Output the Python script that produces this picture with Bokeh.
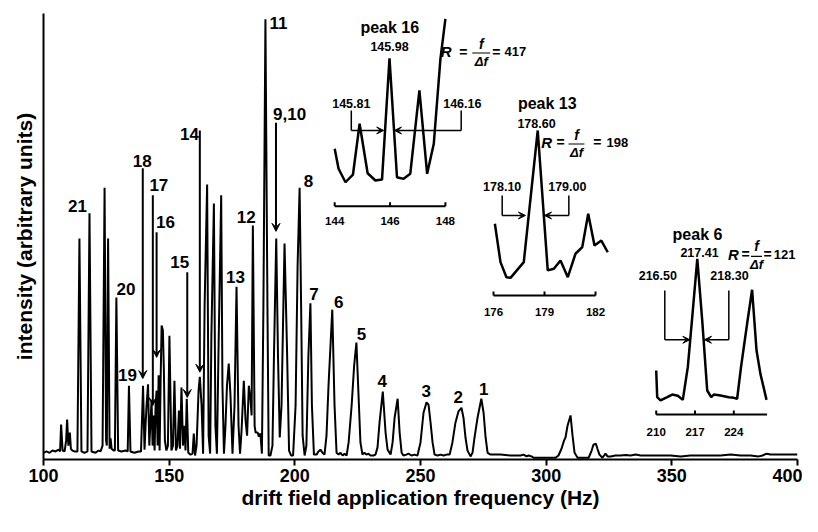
from bokeh.plotting import figure
from bokeh.models import Range1d, FixedTicker, Arrow, VeeHead, ColumnDataSource
from bokeh.core.properties import value
from bokeh.embed import file_html
from bokeh.resources import INLINE

FONT = "Liberation Sans"

# ---------------- main spectrum (Hz, arbitrary intensity) ----------------
freq_a = [100.0, 101.2, 102.4, 103.6, 104.8, 106.0, 106.6, 107.0, 107.6, 108.4,
          109.0, 109.4, 109.9, 110.5, 110.9, 111.5, 112.3, 113.5, 114.3, 115.1,
          116.3, 117.5, 118.3, 119.1, 120.7, 121.9, 122.7, 123.5, 124.3, 124.9,
          125.2, 125.7, 126.3, 126.7, 127.1, 127.9, 128.4, 129.0, 129.7, 131.0,
          132.6, 133.5, 134.0, 134.6, 136.2, 137.8, 138.8, 139.6, 140.2, 140.6,
          141.0, 141.6, 142.1, 142.6, 143.0, 143.4, 143.8, 144.2, 144.6, 145.0,
          145.4, 145.8, 146.2, 146.6, 147.0, 147.5, 147.9, 148.3, 148.9, 149.5]
int_a = [4.4, 4.7, 4.4, 4.9, 4.7, 5.1, 4.7, 10.7, 4.9, 4.7,
         7.1, 11.8, 6.0, 8.9, 5.3, 4.9, 4.7, 4.7, 52.0, 4.7,
         4.4, 4.7, 57.6, 4.7, 4.4, 4.9, 4.7, 6.0, 63.3, 7.1,
         6.0, 52.0, 5.3, 7.6, 5.3, 4.9, 4.9, 38.9, 4.9, 4.7,
         4.9, 4.7, 19.3, 4.7, 4.4, 4.7, 4.7, 19.3, 5.1, 10.4,
         14.9, 19.6, 6.0, 11.6, 16.0, 6.0, 12.7, 4.9, 14.9, 18.2,
         6.0, 21.6, 4.9, 20.4, 32.7, 31.6, 22.7, 7.1, 4.9, 6.0]

freq_b = [150.1, 150.9, 151.5, 152.1, 152.7, 153.3, 153.9, 154.3, 154.9, 155.5,
          156.1, 156.5, 157.0, 157.6, 158.5, 159.3, 159.8, 160.3, 160.9, 161.7,
          162.2, 162.9, 163.5, 164.1, 165.1, 165.7, 166.3, 166.8, 167.8, 168.4,
          169.0, 169.6, 170.7, 171.2, 171.8, 172.4, 173.0, 173.7, 174.4, 175.2,
          176.0, 176.8, 177.6, 178.2, 178.8, 179.7, 180.4, 181.0, 181.7, 182.4,
          182.8, 183.3, 184.0, 184.4, 185.2, 185.7, 186.3, 186.9, 187.5, 188.3,
          189.1, 189.6, 190.3, 191.1, 191.7, 192.6, 193.3, 194.0, 194.7, 195.9,
          196.9, 197.7, 198.5, 199.3]
int_b = [30.4, 4.9, 6.0, 20.4, 4.9, 6.0, 13.8, 5.3, 18.9, 6.0,
         10.4, 4.9, 16.4, 4.4, 4.0, 4.2, 8.7, 3.8, 6.0, 18.2,
         21.3, 14.9, 4.2, 37.1, 64.0, 8.2, 4.2, 30.4, 59.8, 10.4,
         4.2, 26.0, 61.6, 19.3, 4.2, 10.4, 19.3, 24.2, 17.1, 4.2,
         14.9, 41.3, 10.4, 4.2, 9.3, 20.4, 11.6, 8.2, 19.3, 16.0,
         12.7, 54.9, 10.4, 8.9, 8.9, 8.0, 8.7, 4.2, 37.1, 100.7,
         37.1, 3.8, 3.8, 6.0, 26.0, 52.0, 26.0, 7.8, 14.9, 50.9,
         27.1, 4.9, 3.8, 3.8]

freq_c = [200.3, 201.1, 201.9, 202.5, 203.1, 203.9, 204.6, 205.4, 206.2, 206.8,
          207.6, 208.6, 209.4, 210.2, 211.0, 211.8, 212.6, 213.4, 214.9, 215.8,
          216.6, 217.4, 218.2, 219.0, 219.8, 220.6, 221.4, 222.6, 223.6, 224.5,
          225.3, 226.1, 226.9, 227.7, 228.5, 229.3, 230.1, 231.3, 232.1, 232.9,
          233.7, 235.0, 236.1, 236.9, 238.1, 238.9, 239.7, 240.9, 241.7, 242.5,
          243.2, 244.4, 245.2, 246.4, 247.6, 248.8, 250.0, 251.2, 252.4, 253.2,
          254.0, 254.8, 255.6, 256.8, 258.0, 259.2, 260.4, 261.6, 262.7, 263.9,
          265.1, 266.3, 267.1, 267.9, 268.7, 269.9, 270.7, 271.5, 272.7, 274.2,
          275.1, 275.9, 276.7, 277.9]
int_c = [14.9, 46.0, 63.3, 37.1, 8.2, 3.8, 6.0, 26.0, 37.6, 14.9,
         4.0, 4.0, 4.7, 5.1, 4.4, 4.0, 8.2, 19.3, 36.2, 14.9,
         4.4, 4.0, 4.4, 3.8, 4.2, 3.8, 6.7, 14.9, 23.8, 28.9,
         17.8, 6.7, 4.0, 4.4, 4.0, 4.2, 3.8, 3.8, 4.0, 5.6,
         11.1, 18.0, 8.9, 5.1, 4.0, 6.7, 12.2, 16.4, 8.9, 4.4,
         3.8, 4.0, 4.2, 3.8, 4.0, 3.8, 6.7, 13.3, 15.6, 15.1,
         11.1, 6.7, 4.0, 3.8, 4.0, 3.8, 4.0, 4.0, 6.7, 11.1,
         13.6, 14.4, 12.2, 7.8, 4.9, 3.6, 4.4, 7.8, 12.2, 16.4,
         13.3, 7.8, 4.4, 4.0]

freq_d = [279.9, 281.8, 283.8, 285.8, 287.8, 289.8, 291.0, 292.2, 293.0, 294.2,
          295.0, 297.8, 300.9, 303.7, 304.9, 306.1, 307.1, 307.7, 308.5, 309.7,
          310.5, 311.3, 312.5, 314.5, 316.9, 318.1, 318.8, 319.8, 320.4, 321.2,
          322.4, 323.6, 324.4, 325.6, 327.6, 329.6, 331.6, 333.6, 335.6, 337.6,
          341.5, 345.5, 349.5, 353.5, 357.4, 361.4, 365.4, 369.4, 373.4, 377.3,
          381.3, 384.5, 386.1, 387.7, 389.3, 393.3, 397.3, 400.0]
int_d = [4.0, 4.0, 3.9, 3.8, 3.8, 3.8, 4.0, 3.6, 3.8, 3.6,
         3.3, 3.3, 3.3, 3.3, 3.8, 5.3, 7.1, 7.8, 10.4, 12.7,
         8.2, 4.4, 3.3, 3.3, 3.3, 4.9, 6.2, 6.4, 5.3, 4.0,
         3.3, 4.2, 3.6, 3.6, 3.8, 3.8, 3.9, 3.8, 4.0, 3.8,
         3.8, 3.8, 3.8, 3.6, 3.8, 3.8, 3.8, 3.8, 4.0, 3.8,
         3.8, 3.6, 3.8, 4.2, 4.0, 4.0, 4.0, 4.0]

x_ticks = [100, 150, 200, 250, 300, 350, 400]
x_title = "drift field application frequency (Hz)"
y_title = "intensity (arbitrary units)"

# peak labels on the main spectrum
peak_labels = ["21", "20", "19", "18", "17", "16", "15", "14", "13", "12",
               "11", "9,10", "8", "7", "6", "5", "4", "3", "2", "1"]
peak_label_f = [113.5, 132.8, 133.4, 139.3, 145.9, 148.5, 154.2, 158.1, 176.4, 180.7,
                193.5, 197.9, 205.4, 207.6, 217.5, 226.5, 234.8, 252.3, 265.0, 275.2]
peak_label_i = [59.3, 40.9, 21.6, 69.3, 63.8, 55.6, 46.7, 75.3, 43.4, 56.7,
                100.0, 79.6, 64.7, 39.7, 37.8, 30.8, 20.3, 18.1, 16.7, 18.6]

# pointer arrows (vertical) for peaks 18, 17, 16, 15, 14, 9/10
arrow_f = [139.5, 143.5, 145.0, 157.2, 162.2, 192.5]
arrow_top = [67.6, 61.6, 53.4, 44.5, 76.0, 77.7]
arrow_tip = [20.9, 14.9, 25.6, 16.7, 22.3, 53.6]

# ---------------- insets ----------------
ins16_freq = [144.0, 144.14, 144.39, 144.66, 144.9, 145.19, 145.47, 145.71, 145.98,
              146.25, 146.49, 146.73, 147.06, 147.34, 147.58, 147.82, 148.0]
ins16_int = [38.8, 25.3, 16.2, 21.4, 55.7, 22.3, 17.4, 18.0, 100.0,
             19.6, 18.5, 21.9, 78.2, 21.9, 42.2, 99.6, 126.6]
ins16_ticks = [144, 146, 148]

ins13_freq = [176.08, 176.41, 176.76, 177.0, 177.78, 178.6, 179.19, 179.55,
              179.94, 180.37, 180.82, 181.22, 181.57, 181.94, 182.34, 182.72]
ins13_int = [43.5, 20.2, 11.1, 10.7, 20.2, 100.0, 15.2, 16.2,
             21.2, 11.1, 25.3, 29.3, 49.5, 30.3, 33.3, 26.2]
ins13_ticks = [176, 179, 182]

ins6_freq = [210.0, 210.18, 210.78, 211.98, 212.89, 213.9, 214.8, 215.7, 216.5, 217.41,
             218.3, 219.2, 219.92, 220.4, 221.6, 223.1, 224.0, 224.6, 225.3, 226.4,
             227.3, 228.1, 228.8, 229.9]
ins6_int = [28.3, 11.1, 9.0, 11.1, 12.8, 12.0, 9.4, 30.4, 62.5, 100.0,
            60.4, 15.4, 11.1, 12.8, 12.2, 11.1, 10.7, 10.1, 30.4, 58.3,
            80.1, 41.1, 26.1, 9.4]
ins6_ticks = [210, 217, 224]

insets = {
    "i16": dict(
        freq=ins16_freq, inten=ins16_int, ticks=ins16_ticks, axis=(144, 148),
        tick_len=2.7, tick_lab_y=-10.3,
        title=("peak 16", 145.99, 120.9),
        values=[("145.98", 145.98, 108.1), ("145.81", 144.6, 69.2), ("146.16", 148.61, 69.2)],
        brackets=[(144.6, 64.7, 51.2, 145.77), (148.57, 64.7, 51.2, 146.16)],
        formula=dict(R=(148.03, 104.5), eq1=(148.65, 104.5), f=(149.30, 109.3),
                     bar=(148.97, 149.62, 103.5), df=(149.30, 97.8), eq2=(149.84, 104.5),
                     val=("417", 150.53, 104.5)),
        xr=(133.48, 160.72), yr=(-171.1, 130.2)),
    "i13": dict(
        freq=ins13_freq, inten=ins13_int, ticks=ins13_ticks, axis=(176, 182),
        tick_len=2.4, tick_lab_y=-10.3,
        title=("peak 13", 179.16, 116.2),
        values=[("178.60", 178.53, 104.4), ("178.10", 176.51, 66.1), ("179.00", 180.34, 66.1)],
        brackets=[(176.51, 60.6, 48.5, 177.88), (180.43, 60.6, 48.5, 179.0)],
        formula=dict(R=(179.12, 92.9), eq1=(179.94, 92.9), f=(180.88, 97.3),
                     bar=(180.41, 181.35, 91.8), df=(180.88, 86.7), eq2=(182.10, 92.9),
                     val=("198", 183.28, 92.9)),
        xr=(149.53, 193.88), yr=(-99.4, 170.9)),
    "i6": dict(
        freq=ins6_freq, inten=ins6_int, ticks=ins6_ticks, axis=(210, 230),
        tick_len=2.6, tick_lab_y=-11.4,
        title=("peak 6", 217.45, 115.6),
        values=[("217.41", 217.81, 104.2), ("216.50", 210.29, 89.2), ("218.30", 223.22, 89.2)],
        brackets=[(211.55, 79.6, 48.0, 216.06), (223.1, 79.6, 48.0, 218.71)],
        formula=dict(R=(223.95, 102.8), eq1=(226.11, 102.8), f=(228.09, 107.9),
                     bar=(227.1, 229.09, 101.5), df=(228.09, 96.3), eq2=(230.08, 102.8),
                     val=("121", 233.15, 102.8)),
        xr=(99.46, 235.49), yr=(-28.9, 257.5)),
}

# ---------------- figure ----------------
p = figure(width=802, height=516, output_backend="svg", toolbar_location=None,
           x_range=Range1d(100, 400), y_range=Range1d(2.91, 102.0),
           min_border_left=43, min_border_right=5, min_border_top=13, min_border_bottom=57)
p.outline_line_color = None
p.grid.visible = False
p.background_fill_color = "white"
p.border_fill_color = "white"

p.extra_x_ranges = {k: Range1d(*v["xr"]) for k, v in insets.items()}
p.extra_y_ranges = {k: Range1d(*v["yr"]) for k, v in insets.items()}

xa = p.xaxis[0]
xa.ticker = FixedTicker(ticks=x_ticks)
xa.axis_label = x_title
xa.axis_label_text_font = FONT
xa.axis_label_text_font_style = "bold"
xa.axis_label_text_font_size = "21px"
xa.axis_label_text_color = "black"
xa.axis_label_standoff = 1
xa.major_label_text_font = FONT
xa.major_label_text_font_style = "bold"
xa.major_label_text_font_size = "18px"
xa.major_label_text_color = "black"
xa.major_label_standoff = 3
xa.major_tick_out = 6
xa.major_tick_in = 0
xa.minor_tick_out = 0
xa.minor_tick_in = 0
xa.axis_line_width = 2
xa.major_tick_line_width = 2
xa.axis_line_color = "black"
xa.major_tick_line_color = "black"

ya = p.yaxis[0]
ya.ticker = FixedTicker(ticks=[])
ya.axis_label = y_title
ya.axis_label_text_font = FONT
ya.axis_label_text_font_style = "bold"
ya.axis_label_text_font_size = "21px"
ya.axis_label_text_color = "black"
ya.axis_label_standoff = 8
ya.major_tick_out = 0
ya.major_tick_in = 0
ya.minor_tick_out = 0
ya.minor_tick_in = 0
ya.axis_line_width = 2
ya.axis_line_color = "black"

# main trace
freq = freq_a + freq_b + freq_c + freq_d
inten = int_a + int_b + int_c + int_d
p.line(freq, inten, line_color="black", line_width=2)

# peak labels
p.text(x=peak_label_f, y=peak_label_i, text=peak_labels, text_font=value(FONT),
       text_font_style="bold", text_font_size="17px", text_align="center",
       text_baseline="middle", text_color="black")

# arrows
p.add_layout(Arrow(end=VeeHead(size=8, line_color="black", fill_color="black", line_width=1),
                   source=ColumnDataSource(dict(x0=arrow_f, y0=arrow_top, x1=arrow_f, y1=arrow_tip)),
                   x_start="x0", y_start="y0", x_end="x1", y_end="y1",
                   line_width=2, line_color="black"))


def txt(xs, ys, ts, rn, size, style="bold"):
    p.text(x=xs, y=ys, text=ts, x_range_name=rn, y_range_name=rn,
           text_font=value(FONT), text_font_style=style, text_font_size=size,
           text_align="center", text_baseline="middle", text_color="black")


for rn, d in insets.items():
    p.line(d["freq"], d["inten"], x_range_name=rn, y_range_name=rn,
           line_color="black", line_width=2.5)
    a0, a1 = d["axis"]
    p.segment(x0=[a0], y0=[0], x1=[a1], y1=[0], x_range_name=rn, y_range_name=rn,
              line_color="black", line_width=2)
    p.segment(x0=d["ticks"], y0=[0] * len(d["ticks"]), x1=d["ticks"],
              y1=[d["tick_len"]] * len(d["ticks"]), x_range_name=rn, y_range_name=rn,
              line_color="black", line_width=2)
    txt(d["ticks"], [d["tick_lab_y"]] * len(d["ticks"]), [str(t) for t in d["ticks"]], rn, "11.5px")
    t, tx, ty = d["title"]
    txt([tx], [ty], [t], rn, "16px")
    txt([v[1] for v in d["values"]], [v[2] for v in d["values"]], [v[0] for v in d["values"]], rn, "12.5px")
    br = d["brackets"]
    p.segment(x0=[b[0] for b in br], y0=[b[1] for b in br], x1=[b[0] for b in br],
              y1=[b[2] for b in br], x_range_name=rn, y_range_name=rn,
              line_color="black", line_width=1.5)
    p.add_layout(Arrow(end=VeeHead(size=7, line_color="black", fill_color="black", line_width=1),
                       source=ColumnDataSource(dict(x0=[b[0] for b in br], y0=[b[2] for b in br],
                                                    x1=[b[3] for b in br], y1=[b[2] for b in br])),
                       x_start="x0", y_start="y0", x_end="x1", y_end="y1",
                       x_range_name=rn, y_range_name=rn, line_width=1.5, line_color="black"))
    fm = d["formula"]
    txt([fm["R"][0]], [fm["R"][1]], ["R"], rn, "15px", "bold italic")
    txt([fm["eq1"][0], fm["eq2"][0]], [fm["eq1"][1], fm["eq2"][1]], ["=", "="], rn, "14px")
    txt([fm["f"][0]], [fm["f"][1]], ["f"], rn, "14px", "bold italic")
    txt([fm["df"][0]], [fm["df"][1]], ["\u0394f"], rn, "13px", "bold italic")
    b0, b1, by = fm["bar"]
    p.segment(x0=[b0], y0=[by], x1=[b1], y1=[by], x_range_name=rn, y_range_name=rn,
              line_color="black", line_width=1.2)
    v, vx, vy = fm["val"]
    txt([vx], [vy], [v], rn, "13px")

open("out.html", "w").write(file_html(p, INLINE))
